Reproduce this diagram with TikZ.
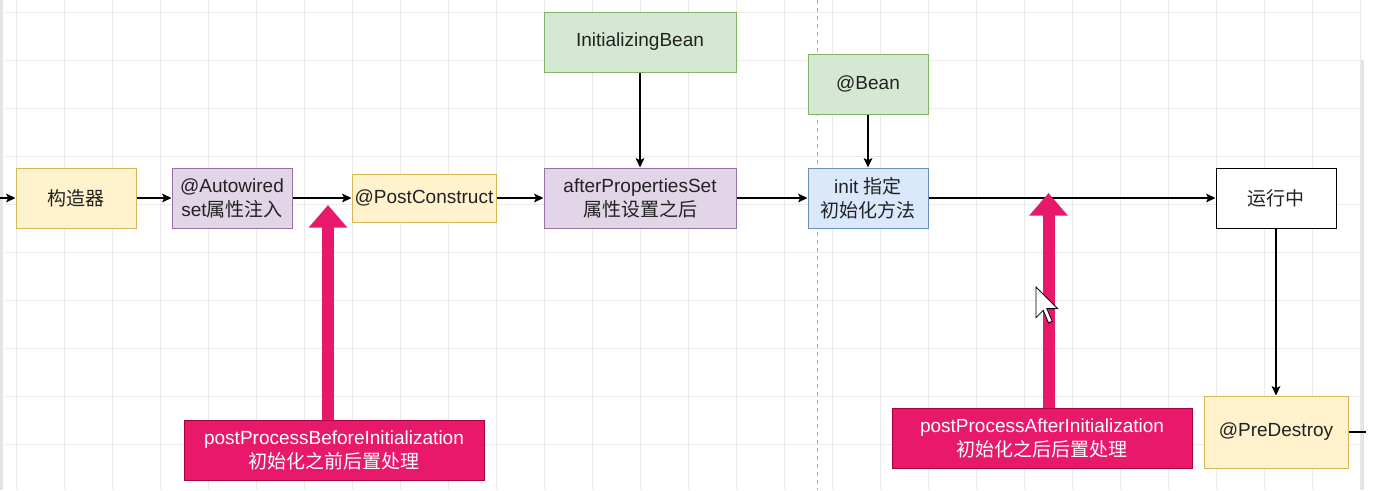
\documentclass[tikz,border=0pt]{standalone}
\usepackage{fontspec}
\setmainfont{Liberation Sans}
\newfontfamily\cjk{Noto Sans CJK SC}
\usetikzlibrary{arrows.meta,calc}
\definecolor{yfill}{HTML}{FFF2CC}\definecolor{ydraw}{HTML}{D6B656}
\definecolor{pfill}{HTML}{E1D5E7}\definecolor{pdraw}{HTML}{9673A6}
\definecolor{gfill}{HTML}{D5E8D4}\definecolor{gdraw}{HTML}{82B366}
\definecolor{bfill}{HTML}{DAE8FC}\definecolor{bdraw}{HTML}{6C8EBF}
\definecolor{pinkfill}{HTML}{E8196A}\definecolor{pinkdraw}{HTML}{A50040}
\definecolor{gridc}{HTML}{EAEAEA}
\definecolor{bandc}{HTML}{E4E4E4}
\definecolor{txt}{HTML}{222222}
\begin{document}
\begin{tikzpicture}[x=0.75pt,y=-0.75pt,
  every node/.style={font=\fontsize{14.25pt}{18pt}\selectfont, text=txt, align=center, inner sep=0pt},
  box/.style={draw, line width=0.75pt, rectangle, minimum width=90pt, minimum height=45pt},
  yellowbox/.style={box, fill=yfill, draw=ydraw},
  purplebox/.style={box, fill=pfill, draw=pdraw},
  greenbox/.style={box, fill=gfill, draw=gdraw},
  bluebox/.style={box, fill=bfill, draw=bdraw},
  whitebox/.style={box, fill=white, draw=black},
  pinkbox/.style={box, fill=pinkfill, draw=pinkdraw, text=white, minimum width=225pt, minimum height=45pt},
  arr/.style={draw=black, line width=1.1pt, -{Stealth[length=7pt,width=6.5pt,inset=1.5pt]}},
  plain/.style={draw=black, line width=1.1pt},
  pinkarrow/.style={draw=pinkfill, line width=9pt, -{Triangle[length=17pt,width=28pt]}},
  gridline/.style={draw=gridc, line width=0.6pt}
]
\useasboundingbox (0,0) rectangle (1373,490);
\fill[white] (0,0) rectangle (1373,490);
% background grid
\foreach \x in {16,64,...,1360} \draw[gridline] (\x,0) -- (\x,490);
\foreach \y in {12,60,...,490} \draw[gridline] (5,\y) -- (1360,\y);
\fill[bandc] (0,0) rectangle (3,490);
\fill[bandc] (1361,60) rectangle (1364,490);
\draw[gray!60, line width=0.75pt, dash pattern=on 3pt off 3pt] (817,0) -- (817,490);

% nodes
\node[yellowbox] (ctor) at (76,198) {\cjk 构造器};
\node[purplebox] (auto) at (232,198) {@Autowired\\set{\cjk 属性注入}};
\node[yellowbox, minimum width=108pt, minimum height=36pt] (post) at (424,198) {@PostConstruct};
\node[purplebox, minimum width=144pt] (aps) at (640,198) {afterPropertiesSet\\{\cjk 属性设置之后}};
\node[greenbox, minimum width=144pt] (ib) at (640,42) {InitializingBean};
\node[greenbox] (bean) at (868,84) {@Bean};
\node[bluebox] (init) at (868,198) {init {\cjk 指定}\\{\cjk 初始化方法}};
\node[whitebox] (run) at (1276,198) {\cjk 运行中};
\node[yellowbox, minimum width=108pt, minimum height=54pt] (pre) at (1276,432) {@PreDestroy};
\node[pinkbox] (before) at (334,450) {postProcessBeforeInitialization\\{\cjk 初始化之前后置处理}};
\node[pinkbox] (after) at (1042,438) {postProcessAfterInitialization\\{\cjk 初始化之后后置处理}};

\coordinate (start) at (0,198);
\coordinate (endR) at (1366,432);
\coordinate (tip1) at (328,205);
\coordinate (tip2) at (1048.5,193);

% connectors
\draw[arr] (start) -- (ctor);
\draw[arr] (ctor) -- (auto);
\draw[arr] (auto) -- (post);
\draw[arr] (post) -- (aps);
\draw[arr] (aps) -- (init);
\draw[arr] (init) -- (run);
\draw[arr] (ib) -- (aps);
\draw[arr] (bean) -- (init);
\draw[arr] (run) -- (pre);
\draw[plain] (pre) -- (endR);

% pink arrows
\draw[pinkarrow] (tip1 |- before.north) -- (tip1);
\draw[pinkarrow] (tip2 |- after.north) -- (tip2);

% mouse cursor
\draw[fill=white, draw=black, line width=0.6pt, shift={(1036,287)}]
  (0,0) -- (0,30.6) -- (7.2,23.4) -- (12.6,36) -- (16.2,34.2) -- (10.8,21.6) -- (21.6,21.6) -- cycle;
\end{tikzpicture}
\end{document}
